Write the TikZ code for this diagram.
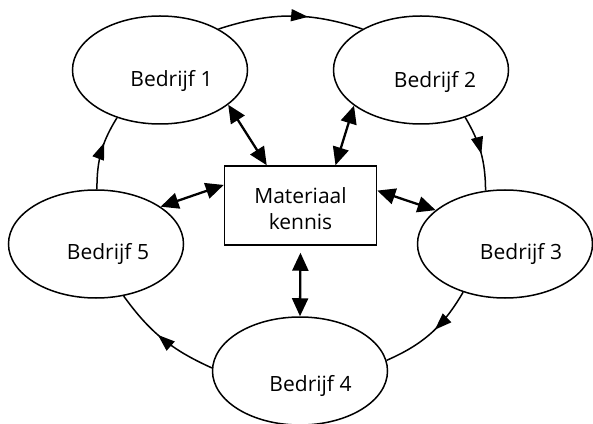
\documentclass[tikz,border=0pt]{standalone}
\usepackage{fontspec}
\setmainfont{Open Sans}
\usetikzlibrary{arrows.meta,shapes.geometric,decorations.markings}

\tikzset{
  firm/.style={draw, ellipse, line width=1.5pt, minimum width=175pt, minimum height=108pt, inner sep=0pt},
  firmtext/.style={anchor=base, font=\fontsize{21}{26}\selectfont},
  link/.style={line width=2.3pt, {Triangle[length=18pt,width=16pt]}-{Triangle[length=18pt,width=16pt]}},
  flow/.style={line width=1.5pt, postaction={decorate},
    decoration={markings, mark=at position #1 with {\arrow{Triangle[length=17pt,width=12pt]}}}}
}

\begin{document}
\begin{tikzpicture}[x=1pt,y=1pt]
  \useasboundingbox (0,0) rectangle (593,423);

  % the five firms
  \node[firm] (b1) at (160,353) {};
  \node[firm] (b2) at (421,353) {};
  \node[firm] (b3) at (505,179) {};
  \node[firm] (b4) at (300,52) {};
  \node[firm] (b5) at (96,179) {};

  \node[firmtext] (t1) at (171.5,336.3) {Bedrijf 1};
  \node[firmtext] (t2) at (435,335.7) {Bedrijf 2};
  \node[firmtext] (t3) at (521,163.7) {Bedrijf 3};
  \node[firmtext] (t4) at (310.5,32) {Bedrijf 4};
  \node[firmtext] (t5) at (108,163.7) {Bedrijf 5};

  % shared knowledge in the middle
  \node[draw, line width=1.5pt, minimum width=152pt, minimum height=79pt, inner sep=0pt,
        align=center, font=\fontsize{21}{26}\selectfont] (km) at (300.5,217.5)
        {\rule{0pt}{22pt}Materiaal\\kennis};

  \draw[link] (b1.-27) -- (km.130);
  \draw[link] (b2.-152) -- (km.49);
  \draw[link] (b3.154) -- (km.11);
  \draw[link] (b5.30) -- (km.165);
  \draw[link, shorten <=7pt] (km.south) -- (b4.north);

  % the ring
  \draw[flow=0.62] (b1.35) to[bend left=18] (b2.145);
  \draw[flow=0.52] (b2.-47) to[bend left=15] (b3.110);
  \draw[flow=0.45] (b3.-131) to[bend left=18] (b4.7);
  \draw[flow=0.55] (b4.178) to[bend left=15] (b5.-62);
  \draw[flow=0.63] (b5.89) to[bend left=16] (b1.-132);
\end{tikzpicture}
\end{document}
